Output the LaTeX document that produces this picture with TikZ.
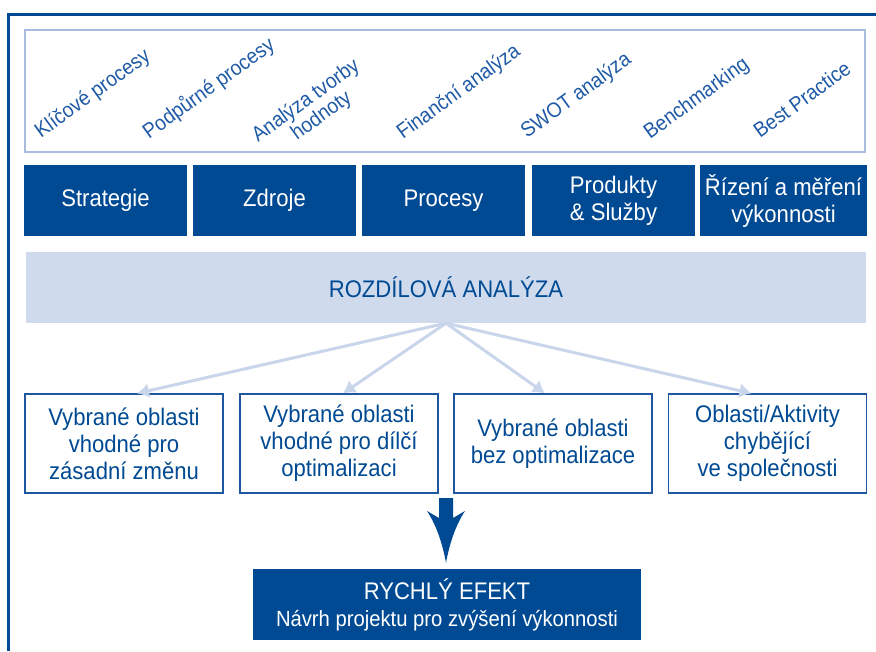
\documentclass[tikz,border=0pt]{standalone}
\usepackage{fontspec}
\setmainfont{Liberation Sans}[FakeStretch=0.92]
\usetikzlibrary{arrows.meta,calc}
\definecolor{dblue}{HTML}{004A93}
\definecolor{lblue}{HTML}{CFDAED}
\definecolor{arrblue}{HTML}{C8D5EB}
\definecolor{frameblue}{HTML}{A7BBDD}
\definecolor{txtblue}{HTML}{1F5AA6}
\definecolor{boxline}{HTML}{1E56A0}
\tikzset{
  dbox/.style={fill=dblue, text=white, minimum width=163pt, minimum height=71pt, inner sep=0pt, align=center, font=\fontsize{24}{27}\selectfont},
  obox/.style={draw=boxline, line width=1.3pt, fill=white, text=dblue, minimum width=198pt, minimum height=99pt, inner sep=0pt, align=center, font=\fontsize{24}{27}\selectfont},
  rlabel/.style={rotate=36, anchor=base west, inner sep=0pt, text=txtblue, font=\fontsize{21}{24}\selectfont},
  fan/.style={draw=arrblue, line width=3pt, -{Latex[length=12pt,width=15pt]}},
}
\begin{document}
\begin{tikzpicture}[x=1pt,y=-1pt]
\useasboundingbox (0,0) rectangle (876,651);
% outer frame
\draw[dblue, line width=3pt] (8,651) |- (876,14);
% top box
\node[draw=frameblue, line width=1.5pt, minimum width=840pt, minimum height=122pt, inner sep=0pt] (top) at (445,91) {};
\node[rlabel] (l1) at (41,139) {Klíčové procesy};
\node[rlabel] (l2) at (149,140) {Podpůrné procesy};
\node[rlabel] (l3) at (258,143) {Analýza tvorby};
\node[rlabel] (l3b) at (297,141) {hodnoty};
\node[rlabel] (l4) at (403,140) {Finanční analýza};
\node[rlabel] (l5) at (527,139) {SWOT analýza};
\node[rlabel] (l6) at (650,140) {Benchmarking};
\node[rlabel] (l7) at (760,139) {Best Practice};
% dark boxes
\node[dbox] (d1) at (105.5,200.5) {Strategie};
\node[dbox] (d2) at (274.5,200.5) {Zdroje};
\node[dbox] (d3) at (443.5,200.5) {Procesy};
\node[dbox] (d4) at (613.5,200.5) {Produkty\\\& Služby};
\node[dbox, minimum width=167pt] (d5) at (783.5,200.5) {Řízení a měření\\výkonnosti};
% bar
\node[fill=lblue, text=dblue, minimum width=840pt, minimum height=71pt, inner sep=0pt, font=\fontsize{24}{27}\selectfont] (bar) at (446,287.5) {ROZDÍLOVÁ ANALÝZA};
% outline boxes
\node[obox] (b1) at (124,443.5) {Vybrané oblasti\\vhodné pro\\zásadní změnu};
\node[obox] (b2) at (339,443.5) {Vybrané oblasti\\vhodné pro dílčí\\optimalizaci};
\node[obox] (b3) at (553,443.5) {Vybrané oblasti\\bez optimalizace};
\node[obox] (b4) at (767.5,443.5) {Oblasti/Aktivity\\chybějící\\ve společnosti};
% fan arrows
\coordinate (apex) at (bar.south);
\draw[fan] (apex) -- ([xshift=13pt]b1.north);
\draw[fan] (apex) -- ([xshift=4pt]b2.north);
\draw[fan] (apex) -- ([xshift=-8pt]b3.north);
\draw[fan] (apex) -- ([xshift=-16pt]b4.north);
% result box
\node[fill=dblue, text=white, minimum width=388pt, minimum height=71pt, inner sep=0pt, align=center, font=\fontsize{24}{27}\selectfont] (res) at (447,604.5) {RYCHLÝ EFEKT\\{\fontsize{22}{27}\selectfont Návrh projektu pro zvýšení výkonnosti}};
% big arrow
\coordinate (bt) at (446,498);
\fill[dblue] ($(bt)+(-7,0)$) -- ($(bt)+(7,0)$) -- ($(bt)+(7,20)$) -- ($(bt)+(19,13)$)
  .. controls ($(bt)+(9,28)$) and ($(bt)+(3,48)$) .. ($(res.north)+(-1,-6)$)
  .. controls ($(bt)+(-3,48)$) and ($(bt)+(-9,28)$) .. ($(bt)+(-19,13)$) -- ($(bt)+(-7,20)$) -- cycle;
\end{tikzpicture}
\end{document}
